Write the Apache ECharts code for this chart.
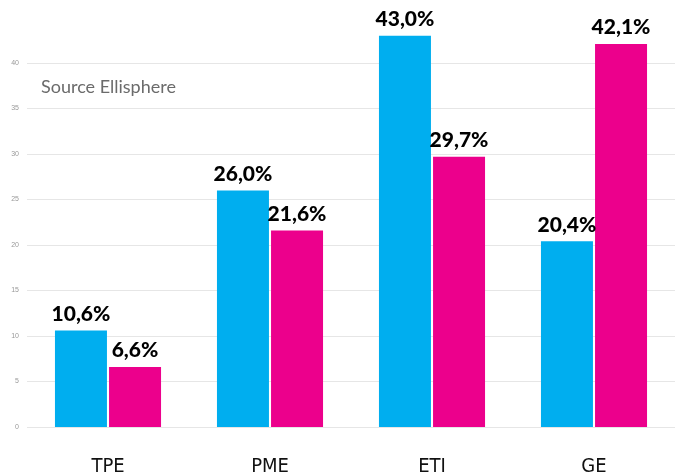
<!DOCTYPE html>
<html>
<head>
<meta charset="utf-8">
<script src="https://cdn.jsdelivr.net/npm/echarts@6/dist/echarts.min.js"></script>
<style>
  html, body { margin: 0; padding: 0; background: #fff; }
  #chart { width: 675px; height: 475px; }
</style>
</head>
<body>
<div id="chart"></div>
<script>
// catégories et valeurs (%)
const categories = ['TPE', 'PME', 'ETI', 'GE']
const serieBleue = [10.6, 26.0, 43.0, 20.4]
const serieRose = [6.6, 21.6, 29.7, 42.1]

const chart = echarts.init(document.getElementById('chart'))

// étiquette "43,0%"
const labelFmt = (p) => p.value.toFixed(1).replace('.', ',') + '%'

const barLabel = {
  show: true,
  position: 'top',
  distance: 6,
  color: '#000',
  fontFamily: 'Lato',
  fontWeight: 900,
  fontSize: 21,
  formatter: labelFmt
}

const option = {
  animation: false,
  backgroundColor: '#fff',
  grid: { left: 27, right: 0, top: 63, bottom: 48, outerBoundsMode: 'none' },
  graphic: [
    {
      type: 'text',
      left: 41,
      top: 78,
      style: {
        text: 'Source Ellisphere',
        fill: '#6b6b6b',
        font: '18px Lato'
      }
    }
  ],
  xAxis: {
    type: 'category',
    data: categories,
    axisLine: { show: false },
    axisTick: { show: false },
    axisLabel: {
      margin: 30,
      color: '#111',
      fontFamily: 'DejaVu Sans Condensed, Lato, sans-serif',
      fontSize: 20
    }
  },
  yAxis: {
    type: 'value',
    min: 0,
    max: 40,
    interval: 5,
    axisLine: { show: false },
    axisTick: { show: false },
    axisLabel: { color: '#999', fontSize: 7, margin: 8 },
    splitLine: { lineStyle: { color: '#e6e6e6', width: 1 } }
  },
  series: [
    {
      type: 'bar',
      data: serieBleue,
      clip: false,
      barWidth: 52,
      barGap: '4%',
      itemStyle: { color: '#00aeef' },
      label: barLabel
    },
    {
      type: 'bar',
      data: serieRose,
      clip: false,
      barWidth: 52,
      itemStyle: { color: '#ec008c' },
      label: barLabel
    }
  ]
}

chart.setOption(option)
</script>
</body>
</html>
